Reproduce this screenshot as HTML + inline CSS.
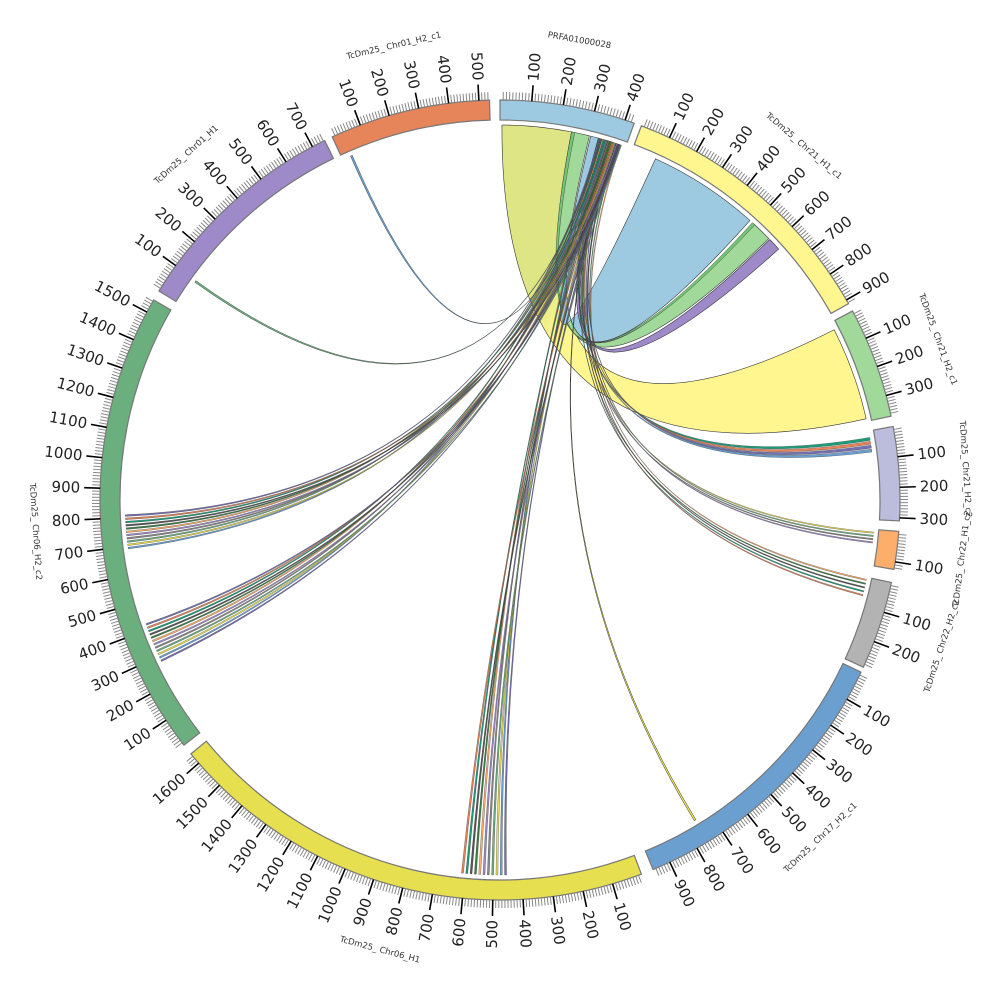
<!DOCTYPE html>
<html><head><meta charset="utf-8"><style>
html,body{margin:0;padding:0;background:#fff}
svg{display:block}
text{font-family:"DejaVu Sans","Liberation Sans",sans-serif}
</style></head><body>
<svg id="s" width="1000" height="1000" viewBox="0 0 1000 1000" xmlns="http://www.w3.org/2000/svg">
<defs>
<linearGradient id="yg" gradientUnits="userSpaceOnUse" x1="535" y1="300" x2="565" y2="320">
<stop offset="0" stop-color="#dde584"/><stop offset="1" stop-color="#fff68f"/></linearGradient>
</defs>
<g id="rib"></g><g id="seg"></g><g id="tk"></g>
<g font-size="8.5" fill="#333">
<text id="n0">PRFA01000028</text>
<text id="n1">TcDm25_ Chr21_H1_c1</text>
<text id="n2">TcDm25_ Chr21_H2_c1</text>
<text id="n3">TcDm25_ Chr21_H2_c2</text>
<text id="n4">TcDm25_ Chr22_H1_c2</text>
<text id="n5">TcDm25_ Chr22_H2_c2</text>
<text id="n6">TcDm25_ Chr17_H2_c1</text>
<text id="n7">TcDm25_ Chr06_H1</text>
<text id="n8">TcDm25_ Chr06_H2_c2</text>
<text id="n9">TcDm25_ Chr01_H1</text>
<text id="n10">TcDm25_ Chr01_H2_c1</text>
</g>
</svg>
<script>
var NS="http://www.w3.org/2000/svg",C=500,R1=380,R2=400,RL=375;
function P(a,r){var t=a*Math.PI/180;return [C+r*Math.sin(t),C-r*Math.cos(t)];}
function f(p){return p[0].toFixed(2)+","+p[1].toFixed(2);}
function el(g,tag,at){var e=document.createElementNS(NS,tag);for(var k in at)e.setAttribute(k,at[k]);document.getElementById(g).appendChild(e);return e;}
var segs=[
[0,19.6,430,"#9ecae1"],[20.7,60.6,914,"#fff68f"],[61.8,77.9,370,"#a1d99b"],[79.4,93,310,"#bcbddc"],
[94.5,100,125,"#fdae6b"],[101.9,114.7,290,"#b3b3b3"],[115.5,157.5,960,"#6a9fcf"],[159.3,230.6,1640,"#e6df50"],
[232.2,300,1545,"#6baf7f"],[301.5,334,745,"#9e8ac8"],[335.2,358.5,535,"#e6845a"]];
segs.forEach(function(s,i){
 var a=s[0],b=s[1],lg=(b-a)>180?1:0;
 el("seg","path",{d:"M"+f(P(a,R1))+"A"+R1+","+R1+" 0 "+lg+" 1 "+f(P(b,R1))+"L"+f(P(b,R2))+"A"+R2+","+R2+" 0 "+lg+" 0 "+f(P(a,R2))+"Z",fill:s[3],stroke:"#777","stroke-width":1.2});
 var u=(b-a)/s[2];
 for(var v=10;v<s[2];v+=10){var an=a+v*u;var maj=v%100==0;
  el("tk","line",{x1:P(an,R2)[0],y1:P(an,R2)[1],x2:P(an,maj?416:408)[0],y2:P(an,maj?416:408)[1],stroke:maj?"#000":"#888","stroke-width":maj?1.6:1});
  if(maj){var q=P(an,420),t=document.createElementNS(NS,"text");t.textContent=v;t.setAttribute("font-size","15");t.setAttribute("fill","#222");t.setAttribute("dominant-baseline","central");
   var rot,anc;if(an<=180){rot=an-90;anc="start";}else{rot=an+90;anc="end";}
   t.setAttribute("text-anchor",anc);t.setAttribute("transform","translate("+f(q)+") rotate("+rot+")");document.getElementById("tk").appendChild(t);}
 }
 var m=(a+b)/2,np=P(m,466),n=document.getElementById("n"+i),r=(m>90&&m<270)?m-180:m;
 n.setAttribute("text-anchor","middle");n.setAttribute("dominant-baseline","central");
 n.setAttribute("transform","translate("+f(np)+") rotate("+r+")");
});
function rib(a1,a2,b1,b2,fill,op,sw){
 var d="M"+f(P(a1,RL))+"A"+RL+","+RL+" 0 0 1 "+f(P(a2,RL))+"Q"+C+","+C+" "+f(P(b1,RL))+"A"+RL+","+RL+" 0 0 1 "+f(P(b2,RL))+"Q"+C+","+C+" "+f(P(a1,RL))+"Z";
 el("rib","path",{d:d,fill:fill,"fill-opacity":op||1,stroke:"#333","stroke-width":sw||0.5});
}
rib(0.3,11,63,77.5,"url(#yg)",1,0.6);
rib(11,13.8,42.5,45.8,"#a1d99b",1,0.6);
rib(11,11.5,42.3,42.8,"#74c476",1,0.4);
rib(14,15.2,24.5,41.8,"#9ecae1",1,0.6);
rib(16.3,17.6,46,48,"#9e8ac8",1,0.6);
var cols=["#1b9e77","#e6845a","#7570b3","#6a9fcf","#e6df50","#6baf7f","#888","#9e8ac8","#fdae6b","#3a7d44","#555"];
var k=0;
function lines(b0,b1,n,w){for(var i=0;i<n;i++){var b=b0+(b1-b0)*i/Math.max(1,n-1);var a=15.2+3.6*((k*0.37)%1);rib(a,a+0.15,b,b+w,cols[k%cols.length],1,0.3);k++;}}
lines(80.4,82.2,4,0.45);
lines(94.9,96.4,4,0.2);
lines(102.2,104.6,5,0.2);
rib(17,17.1,148.5,148.8,"#e6df50",1,0.5);
lines(179,185.6,11,0.3);
lines(244.5,250.5,12,0.25);
lines(262.5,267.5,11,0.25);
rib(15.5,15.6,305.5,305.8,"#6baf7f",1,0.4);
rib(15.6,15.7,336.5,336.8,"#6a9fcf",1,0.4);
</script>
</body></html>
